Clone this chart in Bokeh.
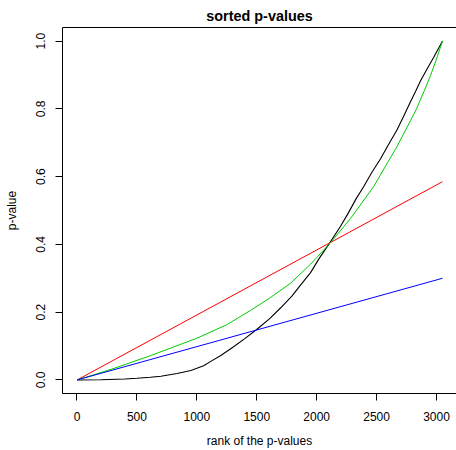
from bokeh.plotting import figure
from bokeh.models import Range1d, FixedTicker, LinearAxis, PrintfTickFormatter, BasicTickFormatter
from bokeh.embed import file_html
from bokeh.resources import INLINE

# ---- data ----
title_text = "sorted p-values"
x_label = "rank of the p-values"
y_label = "p-value"
x_ticks = [0, 500, 1000, 1500, 2000, 2500, 3000]
y_ticks = [0.0, 0.2, 0.4, 0.6, 0.8, 1.0]

black_rank = [1, 200, 400, 500, 612, 700, 835, 950, 1057, 1113, 1200, 1307, 1400, 1497,
              1608, 1700, 1795, 1870, 1948, 2020, 2101, 2198, 2260, 2330, 2393, 2460,
              2532, 2600, 2671, 2730, 2783, 2830, 2866, 2920, 2977, 3020, 3050]
black_p = [0.0, 0.0005, 0.003, 0.005, 0.008, 0.011, 0.019, 0.028, 0.042, 0.054, 0.072,
           0.098, 0.122, 0.148, 0.181, 0.213, 0.248, 0.282, 0.316, 0.358, 0.400, 0.453,
           0.490, 0.535, 0.571, 0.612, 0.652, 0.695, 0.738, 0.781, 0.821, 0.855, 0.882,
           0.917, 0.952, 0.980, 1.000]

green_rank = [1, 300, 612, 1000, 1250, 1447, 1614, 1781, 1950, 2115, 2282, 2476, 2671,
              2783, 2833, 2900, 2950, 3000, 3050]
green_p = [0.0, 0.033, 0.0715, 0.123, 0.163, 0.205, 0.243, 0.285, 0.342, 0.405, 0.476,
           0.571, 0.689, 0.765, 0.800, 0.855, 0.898, 0.947, 1.000]

red_rank = [1, 3050]
red_p = [0.0, 0.585]

blue_rank = [1, 3050]
blue_p = [0.0, 0.300]

FONT = "Liberation Sans"

p = figure(width=456, height=450,
           x_range=Range1d(-121, 3167), y_range=Range1d(-0.04, 1.04),
           output_backend="svg", toolbar_location=None,
           min_border_left=62, min_border_right=0, min_border_top=27, min_border_bottom=55)
p.grid.visible = False
p.outline_line_color = None
p.background_fill_color = "white"
p.border_fill_color = "white"

p.title.text = title_text
p.title.align = "center"
p.title.text_font = FONT
p.title.text_font_size = "14.4px"
p.title.text_font_style = "bold"
p.title.text_color = "black"
p.title.standoff = 8

for ax in (p.xaxis[0], p.yaxis[0]):
    ax.axis_line_color = "black"
    ax.axis_line_width = 1
    ax.major_tick_line_color = "black"
    ax.major_tick_out = 7
    ax.major_tick_in = 0
    ax.minor_tick_line_color = None
    ax.major_label_text_font = FONT
    ax.major_label_text_font_size = "12px"
    ax.major_label_text_color = "black"
    ax.axis_label_text_font = FONT
    ax.axis_label_text_font_size = "12px"
    ax.axis_label_text_font_style = "normal"
    ax.axis_label_text_color = "black"

p.xaxis[0].ticker = FixedTicker(ticks=x_ticks)
p.xaxis[0].formatter = BasicTickFormatter(use_scientific=False)
p.xaxis[0].major_label_standoff = 11
p.xaxis[0].axis_label = x_label
p.xaxis[0].axis_label_standoff = 10

p.yaxis[0].ticker = FixedTicker(ticks=y_ticks)
p.yaxis[0].formatter = PrintfTickFormatter(format="%.1f")
p.yaxis[0].major_label_orientation = "vertical"
p.yaxis[0].major_label_standoff = 10
p.yaxis[0].axis_label = y_label
p.yaxis[0].axis_label_standoff = 15

top_axis = LinearAxis(ticker=FixedTicker(ticks=[]), axis_line_color="black",
                      major_tick_line_color=None, minor_tick_line_color=None,
                      major_tick_out=0, major_tick_in=0, major_label_standoff=0,
                      major_label_text_font_size="0px")
p.add_layout(top_axis, "above")

p.line(black_rank, black_p, line_color="black", line_width=1.1)
p.line(red_rank, red_p, line_color="#FF0000", line_width=1)
p.line(green_rank, green_p, line_color="#00CD00", line_width=1)
p.line(blue_rank, blue_p, line_color="#0000FF", line_width=1)

open("out.html", "w").write(file_html(p, INLINE))
